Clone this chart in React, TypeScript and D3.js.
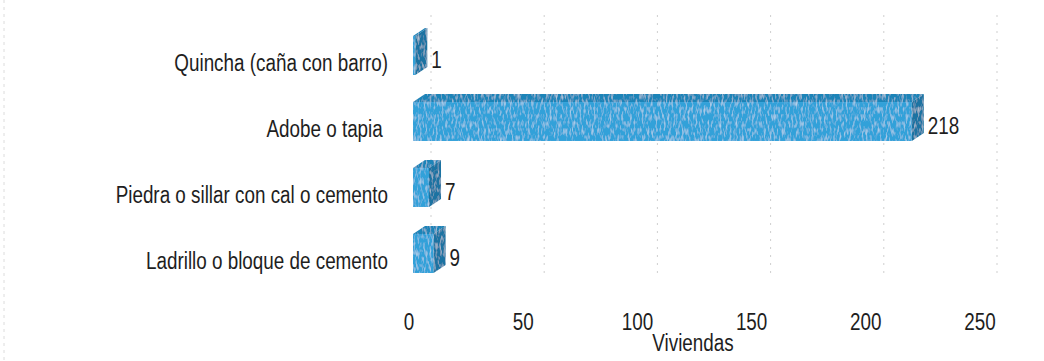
import React from "react";
import * as d3 from "d3";

// Material of the walls vs. number of dwellings
const categories = [
  "Quincha (caña con barro)",
  "Adobe o tapia ",
  "Piedra o sillar con cal o cemento",
  "Ladrillo o bloque de cemento",
];
const viviendas = [1, 218, 7, 9];
const tickValues = [0, 50, 100, 150, 200, 250];
const axisTitle = "Viviendas";

const W = 1044;
const H = 361;
const DEPTH_X = 12;
const DEPTH_Y = 8;
const FONT = "'Liberation Sans', Arial, sans-serif";
const NARROW = 0.82;

export default function App() {
  const xFront = d3.scaleLinear().domain([0, 250]).range([413, 985]);
  const xBack = d3.scaleLinear().domain([0, 250]).range([431, 997]);
  const xTick = d3.scaleLinear().domain([0, 250]).range([409, 980]);
  const y = d3
    .scaleBand<string>()
    .domain(categories)
    .range([22.5, 286.5])
    .paddingInner(0.41)
    .paddingOuter(0.205);
  const bw = y.bandwidth();

  const narrowText = (
    key: string,
    x: number,
    yy: number,
    label: string,
    anchor: "start" | "middle" | "end",
    size = 23
  ) => (
    <text
      key={key}
      transform={`translate(${x},${yy}) scale(${NARROW},1)`}
      textAnchor={anchor}
      dominantBaseline="central"
      fontFamily={FONT}
      fontSize={size}
      fill="#1e1e1e"
      style={{ whiteSpace: "pre" }}
    >
      {label}
    </text>
  );

  return (
    <div style={{ position: "absolute", left: 0, top: 0 }}>
      <svg width={W} height={H} viewBox={`0 0 ${W} ${H}`} style={{ display: "block", background: "#fff" }}>
        <defs>
          <filter id="grain" x="0" y="0" width="100%" height="100%">
            <feTurbulence type="fractalNoise" baseFrequency="0.5 0.14" numOctaves="2" seed="7" result="noise" />
            <feColorMatrix
              in="noise"
              type="matrix"
              values="0 0 0 0 1  0 0 0 0 1  0 0 0 0 1  1.1 0 0 0 -0.52"
              result="speck"
            />
            <feComposite in="speck" in2="SourceAlpha" operator="in" result="speckIn" />
            <feMerge>
              <feMergeNode in="SourceGraphic" />
              <feMergeNode in="speckIn" />
            </feMerge>
          </filter>
        </defs>

        {/* faint left border */}
        <line x1={4} x2={4} y1={0} y2={H} stroke="#dcdcdc" strokeDasharray="3,4" />

        {/* back-wall gridlines */}
        {tickValues.map((t) => (
          <line
            key={`g${t}`}
            x1={xBack(t)}
            x2={xBack(t)}
            y1={15}
            y2={273}
            stroke="#cfcfcf"
            strokeWidth={1}
            strokeDasharray="2,6"
          />
        ))}

        {/* 3D bars */}
        {categories.map((c, i) => {
          const v = viviendas[i];
          const x0 = xFront(0);
          const x1 = xFront(v);
          const yt = y(c)!;
          const yb = yt + bw;
          const top = [
            [x0, yt],
            [x0 + DEPTH_X, yt - DEPTH_Y],
            [x1 + DEPTH_X, yt - DEPTH_Y],
            [x1, yt],
          ];
          const side = [
            [x1, yt],
            [x1 + DEPTH_X, yt - DEPTH_Y],
            [x1 + DEPTH_X, yb - DEPTH_Y],
            [x1, yb],
          ];
          const pts = (p: number[][]) => p.map((q) => q.join(",")).join(" ");
          return (
            <g key={c} filter="url(#grain)">
              <rect x={x0} y={yt} width={x1 - x0} height={bw} fill="#32a1d9" />
              <polygon points={pts(top)} fill="#1e84b8" />
              <polygon points={pts(side)} fill="#1a73a2" />
            </g>
          );
        })}

        {/* value labels */}
        {categories.map((c, i) =>
          narrowText(`v${i}`, xFront(viviendas[i]) + DEPTH_X + 4, y(c)! + bw / 2 + 4, String(viviendas[i]), "start")
        )}

        {/* category labels */}
        {categories.map((c, i) => narrowText(`c${i}`, 388, y(c)! + bw / 2 + 7.5, c, "end"))}

        {/* tick labels */}
        {tickValues.map((t) => narrowText(`t${t}`, xTick(t), 322, String(t), "middle"))}

        {/* axis title */}
        {narrowText("title", 693, 343, axisTitle, "middle")}
      </svg>
    </div>
  );
}
